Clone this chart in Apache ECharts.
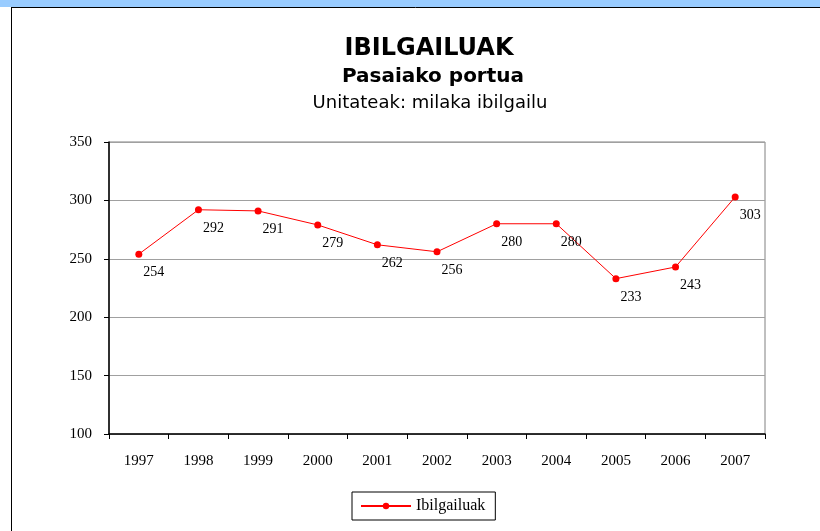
<!DOCTYPE html>
<html>
<head>
<meta charset="utf-8">
<script src="https://cdn.jsdelivr.net/npm/echarts@6/dist/echarts.min.js"></script>
<style>
  html, body { margin: 0; padding: 0; background: #fff; }
  #chart { width: 820px; height: 531px; }
</style>
</head>
<body>
<div id="chart"></div>
<script>
  // urteak eta balioak (milaka ibilgailu)
  const years = ['1997', '1998', '1999', '2000', '2001', '2002', '2003', '2004', '2005', '2006', '2007'];
  const vehicles = [254, 292, 291, 279, 262, 256, 280, 280, 233, 243, 303];
  const yTicks = [100, 150, 200, 250, 300, 350];

  const serif = '"Liberation Serif", "Times New Roman", serif';
  const sans = '"DejaVu Sans", Arial, sans-serif';

  let chart = echarts.init(document.getElementById('chart'));
  let option = {
    backgroundColor: '#fff',
    animation: false,
    graphic: [
      { type: 'rect', shape: { x: 0, y: 0, width: 820, height: 7 }, style: { fill: '#99ccff' } },
      { type: 'line', shape: { x1: 11.5, y1: 7, x2: 11.5, y2: 531 }, style: { stroke: '#000', lineWidth: 1 } },
      { type: 'line', shape: { x1: 11, y1: 7.5, x2: 820, y2: 7.5 }, style: { stroke: '#000', lineWidth: 1 } }
    ],
    title: [
      { text: 'IBILGAILUAK', left: 424, top: 32, textAlign: 'center',
        textStyle: { fontFamily: sans, fontSize: 24, fontWeight: 'bold', color: '#000' } },
      { text: 'Pasaiako portua', left: 428, top: 62, textAlign: 'center',
        textStyle: { fontFamily: sans, fontSize: 20, fontWeight: 'bold', color: '#000' } },
      { text: 'Unitateak: milaka ibilgailu', left: 425, top: 89, textAlign: 'center',
        textStyle: { fontFamily: sans, fontSize: 18, fontWeight: 'normal', color: '#000' } }
    ],
    legend: {
      data: ['Ibilgailuak'],
      left: 352,
      top: 492,
      padding: [6, 10, 6, 8],
      borderColor: '#000',
      borderWidth: 1,
      itemWidth: 50,
      itemHeight: 8,
      itemGap: 6,
      textStyle: { fontFamily: serif, fontSize: 16, color: '#000' }
    },
    grid: {
      left: 109, right: 55, top: 142, bottom: 97,
      show: true, borderColor: '#808080', borderWidth: 1
    },
    xAxis: {
      type: 'category',
      data: years,
      boundaryGap: true,
      axisLine: { lineStyle: { color: '#000', width: 1.5 } },
      axisTick: { show: true, length: 5, lineStyle: { color: '#000' } },
      axisLabel: { fontFamily: serif, fontSize: 15, color: '#000', margin: 20 }
    },
    yAxis: {
      type: 'value',
      min: yTicks[0],
      max: yTicks[yTicks.length - 1],
      interval: 50,
      axisLine: { show: true, lineStyle: { color: '#000', width: 1.5 } },
      axisTick: { show: true, length: 5, lineStyle: { color: '#000' } },
      axisLabel: { fontFamily: serif, fontSize: 15, color: '#000', margin: 17 },
      splitLine: { lineStyle: { color: '#a0a0a0', width: 1 } }
    },
    series: [{
      name: 'Ibilgailuak',
      type: 'line',
      data: vehicles,
      symbol: 'circle',
      symbolSize: 7,
      itemStyle: { color: '#ff0000' },
      lineStyle: { color: '#ff0000', width: 1 },
      label: {
        show: true,
        position: 'bottom',
        offset: [15, 3],
        fontFamily: serif,
        fontSize: 14,
        color: '#000'
      }
    }]
  };
  chart.setOption(option);
</script>
</body>
</html>
